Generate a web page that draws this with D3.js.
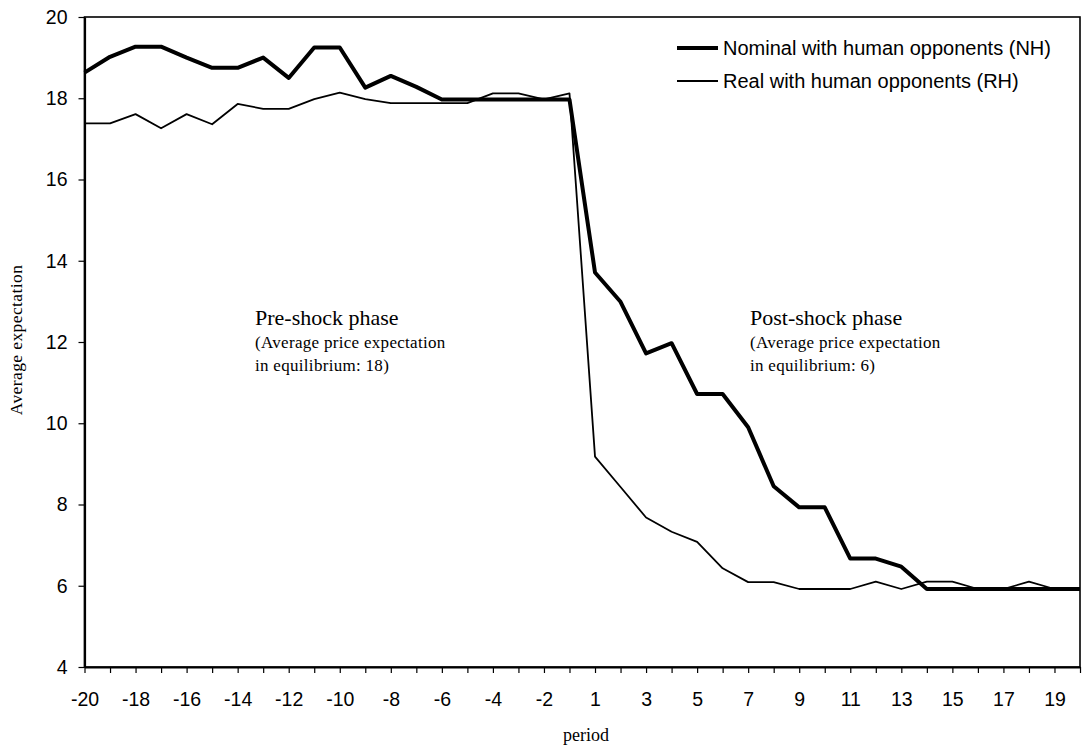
<!DOCTYPE html>
<html>
<head>
<meta charset="utf-8">
<script src="https://cdn.jsdelivr.net/npm/d3@7"></script>
<style>
  body { margin: 0; background: #fff; }
  .tick text { font-family: Arial, "Liberation Sans", sans-serif; font-size: 19.5px; fill: #000; }
  .serif { font-family: "Times New Roman", "Liberation Serif", serif; fill: #000; }
</style>
</head>
<body>
<svg id="chart" width="1084" height="747"></svg>
<script>
var periods = [-20, -19, -18, -17, -16, -15, -14, -13, -12, -11, -10, -9, -8, -7, -6, -5, -4, -3, -2, -1,
  1, 2, 3, 4, 5, 6, 7, 8, 9, 10, 11, 12, 13, 14, 15, 16, 17, 18, 19, 20]

// Nominal with human opponents (NH)
var nominal = [18.63, 19.02, 19.27, 19.27, 19.0, 18.75, 18.75, 19.0, 18.5, 19.25,
  19.25, 18.26, 18.55, 18.28, 17.97, 17.97, 17.97, 17.97, 17.97, 17.97,
  13.71, 12.99, 11.72, 11.97, 10.72, 10.72, 9.9, 8.45, 7.93, 7.93,
  6.67, 6.67, 6.47, 5.92, 5.92, 5.92, 5.92, 5.92, 5.92, 5.92]

// Real with human opponents (RH)
var real = [17.38, 17.38, 17.61, 17.26, 17.61, 17.36, 17.86, 17.74, 17.74, 17.98,
  18.14, 17.98, 17.88, 17.88, 17.88, 17.88, 18.12, 18.12, 17.97, 18.12,
  9.18, 8.43, 7.68, 7.33, 7.08, 6.43, 6.09, 6.09, 5.92, 5.92,
  5.92, 6.1, 5.92, 6.1, 6.1, 5.92, 5.92, 6.1, 5.92, 5.92]

var yTicks = [4, 6, 8, 10, 12, 14, 16, 18, 20]

var legendItems = [
  { label: "Nominal with human opponents (NH)", width: 4 },
  { label: "Real with human opponents (RH)", width: 1.8 }
]

var notes = [
  { left: 255, lines: ["Pre-shock phase", "(Average price expectation", "in equilibrium: 18)"] },
  { left: 750, lines: ["Post-shock phase", "(Average price expectation", "in equilibrium: 6)"] }
]

var plot = { left: 84.5, right: 1080, top: 17, bottom: 667 }

var svg = d3.select("#chart")

var x = d3.scalePoint()
  .domain(periods)
  .range([plot.left, plot.right])

var y = d3.scaleLinear()
  .domain([4, 20])
  .range([plot.bottom, plot.top])

// frame around the plot
svg.append("rect")
  .attr("x", plot.left)
  .attr("y", plot.top)
  .attr("width", plot.right - plot.left)
  .attr("height", plot.bottom - plot.top)
  .attr("fill", "none")
  .attr("stroke", "#000")
  .attr("stroke-width", 1.6)

svg.append("g")
  .attr("transform", "translate(0," + plot.bottom + ")")
  .call(d3.axisBottom(x)
    .tickSize(6)
    .tickSizeOuter(0)
    .tickPadding(19)
    .tickFormat(function(d, i){ return i % 2 == 0 ? d : "" }))

svg.append("g")
  .attr("transform", "translate(" + plot.left + ",0)")
  .call(d3.axisLeft(y)
    .tickValues(yTicks)
    .tickSize(6)
    .tickSizeOuter(0)
    .tickPadding(11))

svg.selectAll(".domain").attr("stroke-width", 2.2)
svg.selectAll(".tick line").attr("stroke-width", 1.2)

var line = function(values) {
  return d3.line()
    .x(function(d, i){ return x(periods[i]) })
    .y(function(d){ return y(d) })(values)
}

svg.append("path")
  .attr("d", line(real))
  .attr("fill", "none")
  .attr("stroke", "#000")
  .attr("stroke-width", 1.8)
  .attr("stroke-linejoin", "round")

svg.append("path")
  .attr("d", line(nominal))
  .attr("fill", "none")
  .attr("stroke", "#000")
  .attr("stroke-width", 4)
  .attr("stroke-linejoin", "round")

// legend
var legend = svg.selectAll(".legend")
  .data(legendItems)
  .enter().append("g")
  .attr("transform", function(d, i){ return "translate(677," + (48 + i * 33) + ")" })

legend.append("line")
  .attr("x1", 0)
  .attr("x2", 41)
  .attr("stroke", "#000")
  .attr("stroke-width", function(d){ return d.width })

legend.append("text")
  .attr("x", 46)
  .attr("y", 6.5)
  .attr("font-family", "Arial, 'Liberation Sans', sans-serif")
  .attr("font-size", 20)
  .text(function(d){ return d.label })

// phase notes
notes.forEach(function(n) {
  n.lines.forEach(function(t, i) {
    svg.append("text")
      .attr("class", "serif")
      .attr("x", n.left)
      .attr("y", 325 + i * 23)
      .attr("font-size", i == 0 ? 22 : 17)
      .attr("letter-spacing", i == 0 ? 0 : 0.3)
      .text(t)
  })
})

svg.append("text")
  .attr("class", "serif")
  .attr("transform", "translate(22,340) rotate(-90)")
  .attr("text-anchor", "middle")
  .attr("font-size", 17.5)
  .attr("letter-spacing", 0.4)
  .text("Average expectation")

svg.append("text")
  .attr("class", "serif")
  .attr("x", 586)
  .attr("y", 741)
  .attr("text-anchor", "middle")
  .attr("font-size", 18)
  .text("period")
</script>
</body>
</html>
